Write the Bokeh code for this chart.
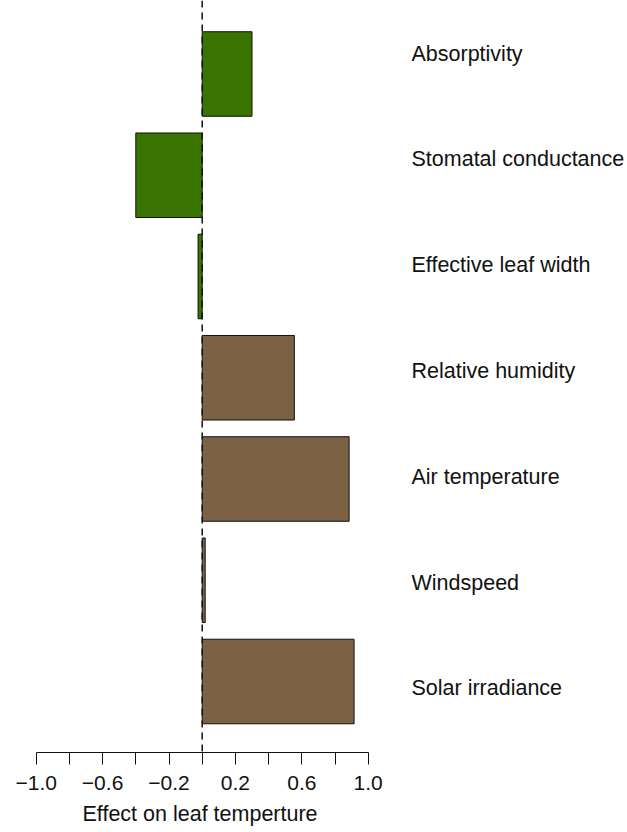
from bokeh.plotting import figure
from bokeh.models import Range1d, FixedTicker, Span, ColumnDataSource, LinearAxis, Title
from bokeh.core.properties import value
from bokeh.embed import file_html
from bokeh.resources import INLINE

# ---- data ----
categories = ["Absorptivity", "Stomatal conductance", "Effective leaf width",
              "Relative humidity", "Air temperature", "Windspeed", "Solar irradiance"]
effects = [0.30, -0.40, -0.025, 0.555, 0.885, 0.018, 0.915]
groups = ["leaf", "leaf", "leaf", "env", "env", "env", "env"]
tick_values = [-1.0, -0.8, -0.6, -0.4, -0.2, 0.0, 0.2, 0.4, 0.6, 0.8, 1.0]
tick_labels = ["\u22121.0", "", "\u22120.6", "", "\u22120.2", "", "0.2", "", "0.6", "", "1.0"]
x_title = "Effect on leaf temperture"
group_colors = {"leaf": "#397400", "env": "#7b6245"}

# ---- layout constants (pixels) ----
W, H = 627, 832
px_per_unit_x = 166.0
zero_px = 201.7          # canvas x of value 0
frame_h = 752
px_per_unit_y = 101.25
bottom_bar_px = 681.0    # canvas y of centre of lowest bar
label_px = 411.0         # canvas x of label start
label_top_px = 53.0      # canvas y of first label centre
label_step_px = 105.8    # vertical spacing of labels
title_left_px = 82

x0 = -zero_px / px_per_unit_x
x1 = (W - zero_px) / px_per_unit_x
n = len(categories)
ypos = [n - i for i in range(n)]
y_bottom = 1 - (frame_h - bottom_bar_px) / px_per_unit_y
y_top = 1 + bottom_bar_px / px_per_unit_y
label_y = [1 + (bottom_bar_px - (label_top_px + i * label_step_px)) / px_per_unit_y
           for i in range(n)]

src = ColumnDataSource(dict(
    y=ypos, v=effects, cat=categories, ly=label_y,
    color=[group_colors[g] for g in groups],
    lx=[(label_px - zero_px) / px_per_unit_x] * n,
))

p = figure(width=W, height=H, output_backend="svg", toolbar_location=None,
           x_range=Range1d(x0, x1), y_range=Range1d(y_bottom, y_top),
           x_axis_location=None, y_axis_location=None,
           min_border_left=0, min_border_right=0, min_border_top=0,
           min_border_bottom=H - frame_h)
p.outline_line_color = None
p.xgrid.visible = False
p.ygrid.visible = False
p.background_fill_color = "white"
p.border_fill_color = "white"

p.hbar(y="y", left=0, right="v", height=0.835, fill_color="color",
       line_color="#111111", line_width=1, source=src)

p.add_layout(Span(location=0, dimension="height", line_color="#111111",
                  line_width=1.5, line_dash="7 5"))

p.text(x="lx", y="ly", text="cat", source=src, text_align="left",
       text_baseline="middle", text_font=value("Liberation Sans"),
       text_font_size="21.5px", text_color="#111111")

ax = LinearAxis(bounds=(-1.0, 1.0))
ax.ticker = FixedTicker(ticks=tick_values)
ax.major_label_overrides = {t: l for t, l in zip(tick_values, tick_labels)}
ax.minor_tick_line_color = None
ax.major_tick_in = 0
ax.major_tick_out = 12
ax.major_tick_line_color = "#111111"
ax.axis_line_color = "#111111"
ax.major_label_text_font = "Liberation Sans"
ax.major_label_text_font_size = "21px"
ax.major_label_text_color = "#111111"
ax.major_label_standoff = 11
p.add_layout(ax, "below")

p.add_layout(Title(text=x_title, align="left", offset=title_left_px, standoff=14,
                   text_font="Liberation Sans", text_font_size="21.5px",
                   text_font_style="normal", text_color="#111111"), "below")

open("out.html", "w").write(file_html(p, INLINE))
